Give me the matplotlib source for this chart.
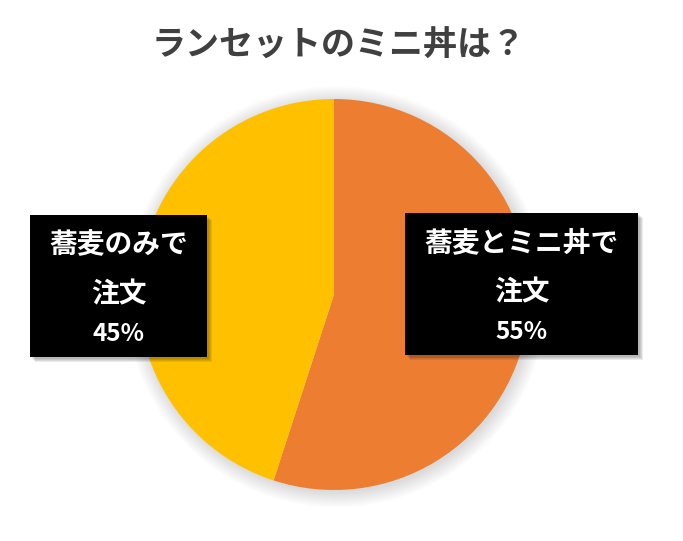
import numpy as np
import matplotlib.pyplot as plt
from matplotlib.patches import Rectangle, Circle

plt.rcParams['font.family'] = ['Noto Sans CJK JP', 'DejaVu Sans']

# data
title = 'ランセットのミニ丼は？'
labels = ['蕎麦とミニ丼で', '蕎麦のみで']
values = [55, 45]
colors = ['#ED7D31', '#FFC000']

W, H = 683, 541
fig = plt.figure(figsize=(W / 100, H / 100), dpi=100)

# pie axes (pixel layout -> figure fraction)
cx, cy, r = 334, 294.5, 195.5
ax = fig.add_axes([(cx - r) / W, (H - cy - r) / H, 2 * r / W, 2 * r / H])
ax.set_xlim(-1, 1)
ax.set_ylim(-1, 1)
ax.axis('off')

# soft shadow around the pie
for k in range(12):
    ax.add_patch(Circle((0.012, -0.012), 1 + 0.007 * k, color='#808080',
                        alpha=0.025, lw=0, clip_on=False, zorder=0))

ax.pie(values, colors=colors, startangle=90, counterclock=False, radius=1,
       wedgeprops=dict(linewidth=0), frame=False)
ax.set_xlim(-1, 1)
ax.set_ylim(-1, 1)

fig.text(339 / W, 1 - 45 / H, title, ha='center', va='center',
         fontsize=24.5, fontweight='bold', color='#404040')

# overlay for label boxes
ov = fig.add_axes([0, 0, 1, 1])
ov.set_xlim(0, W)
ov.set_ylim(H, 0)
ov.axis('off')

boxes = [(405, 213, 233, 142), (30, 215, 177, 142)]
for (x, y, w, h), lab, v in zip(boxes, labels, values):
    for k in range(4):
        ov.add_patch(Rectangle((x + 2 + k, y + 2 + k), w, h, color='#000000',
                               alpha=0.08, lw=0))
    ov.add_patch(Rectangle((x, y), w, h, color='black', lw=0))
    xc = x + w / 2
    ov.text(xc, y + 30, lab, ha='center', va='center', color='white',
            fontsize=20, fontweight='bold')
    ov.text(xc, y + 79, '注文', ha='center', va='center', color='white',
            fontsize=20, fontweight='bold')
    ov.text(xc, y + 119, f'{v}%', ha='center', va='center', color='white',
            fontsize=17.5, fontweight='bold')

fig.savefig('out.png', dpi=100, facecolor='white')
